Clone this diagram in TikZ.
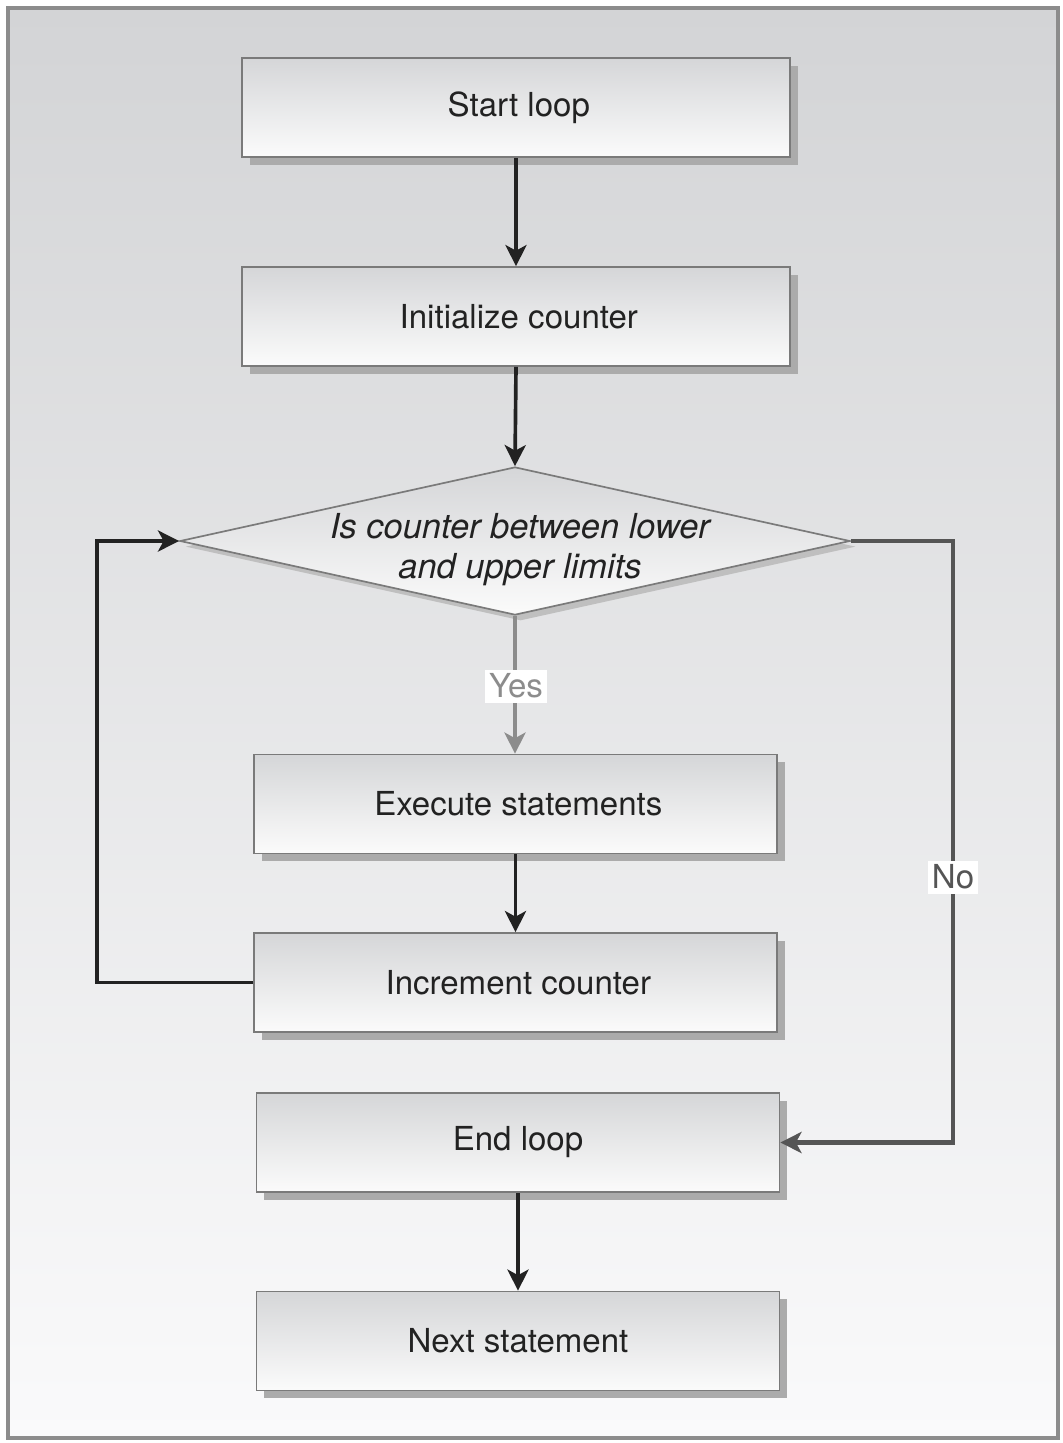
\documentclass[tikz,border=0pt]{standalone}
\usepackage{fontspec}
\setmainfont{TeX Gyre Heros}
\usetikzlibrary{arrows.meta, shapes.geometric, shadows}
\definecolor{boxtop}{HTML}{D5D6D8}
\definecolor{boxbot}{HTML}{FBFBFB}
\definecolor{pagetop}{HTML}{D3D4D6}
\definecolor{pagebot}{HTML}{FAFAFB}
\definecolor{edge}{HTML}{7A7A7A}
\definecolor{ink}{HTML}{222222}
\definecolor{yesgray}{HTML}{8C8C8C}
\definecolor{nogray}{HTML}{555555}

\begin{document}
\begin{tikzpicture}[x=0.025cm, y=-0.025cm,
    stepbox/.style={rectangle, draw=edge, line width=1.2pt,
        top color=boxtop, bottom color=boxbot,
        drop shadow={shadow xshift=5.5pt, shadow yshift=-5.5pt, fill=black!33, opacity=1},
        minimum height=2.475cm, text=ink, font=\fontsize{23.5}{28.4}\selectfont},
    wide/.style={minimum width=13.7cm},
    narrow/.style={minimum width=13.075cm},
    flow/.style={line width=2.6pt, draw=ink, -{Stealth[length=15pt, width=15pt, inset=4pt]}},
    tag/.style={fill=white, inner sep=3pt, font=\fontsize{23.5}{28.4}\selectfont}]

        \useasboundingbox (0,0) rectangle (1063,1443);
        \shade[top color=pagetop, bottom color=pagebot] (8,8) rectangle (1058,1438);
        \draw[black!45, line width=2.2pt] (8,8) rectangle (1058,1438);

        \node (start) [stepbox, wide] at (516,107.5) {\hspace*{4pt}Start loop};
        \node (init) [stepbox, wide] at (516,316.5) {\hspace*{4pt}Initialize counter};

        \node (cond) [diamond, draw=edge, line width=1.2pt, inner sep=0pt,
            top color=boxtop, bottom color=boxbot,
            drop shadow={shadow xshift=4pt, shadow yshift=-4pt, fill=black!25, opacity=1},
            minimum width=16.75cm, minimum height=3.7cm] at (515,541) {};
        \node (condtext) [align=center, text=ink, font=\fontsize{24.5}{28.4}\selectfont\itshape]
            at (520,550) {Is counter between lower\\and upper limits};

        \node (exec) [stepbox, narrow] at (515.5,804) {\hspace*{4pt}Execute statements};
        \node (inc) [stepbox, narrow] at (515.5,982.5) {\hspace*{4pt}Increment counter};
        \node (endl) [stepbox, narrow] at (518,1142.5) {End loop};
        \node (next) [stepbox, narrow] at (518,1341) {Next statement};

        \coordinate (loopL) at (97,541);
        \coordinate (loopR) at (953,541);

        \draw[flow] (start) -- (init);
        \draw[flow] (init.south) -- (cond.north);
        \draw[flow, draw=yesgray] (cond.south) -- (cond.south |- exec.north);
        \draw[flow] (exec.south) -- (exec.south |- inc.north);
        \draw[flow] (inc.west) -| (loopL) -- (cond.west);
        \draw[flow, draw=nogray, line width=3pt] (cond.east) -- (loopR) |- (endl.east);
        \draw[flow] (endl) -- (next);

        \node (yes) [tag, text=yesgray] at (516,686) {Yes};
        \node (no) [tag, text=nogray] at (953,877) {No};
\end{tikzpicture}
\end{document}
